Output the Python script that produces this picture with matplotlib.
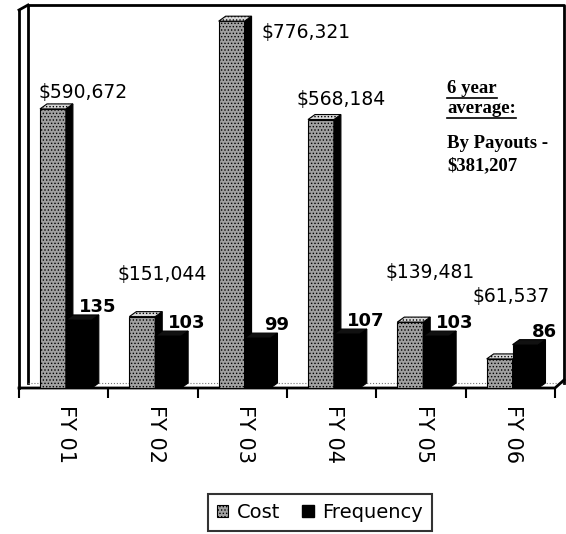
import numpy as np
import matplotlib.pyplot as plt
import matplotlib.transforms as mtransforms
from matplotlib.patches import Polygon
from matplotlib.lines import Line2D

years = ['FY 01', 'FY 02', 'FY 03', 'FY 04', 'FY 05', 'FY 06']
cost = [590672, 151044, 776321, 568184, 139481, 61537]
frequency = [135, 103, 99, 107, 103, 86]
cost_labels = ['$590,672', '$151,044', '$776,321', '$568,184', '$139,481', '$61,537']
# where Excel dropped each cost label, in pixels from the bar top
cost_label_offsets = [(30, 16), (20, 42), (74, -11), (20, 20), (20, 50), (12, 62)]

W, H = 566, 534
plt.rcParams['font.family'] = ['DejaVu Sans']
plt.rcParams['hatch.linewidth'] = 0.6
plt.rcParams['hatch.color'] = '#222222'

fig = plt.figure(figsize=(W / 100, H / 100), dpi=100)
x0, x1, y0, y1 = 19, 555, 388, 10   # front plane of the box, pixels
ax = fig.add_axes([x0 / W, 1 - y0 / H, (x1 - x0) / W, (y0 - y1) / H])
ax.set_xlim(0, 6)
ax.set_ylim(0, 800000)
ax2 = ax.twinx()
ax2.set_ylim(0, 750)
for a in (ax, ax2):
    for s in a.spines.values():
        s.set_visible(False)
    a.set_yticks([])
ax.patch.set_visible(False)

# depth of bars in data units (7 px right, 5 px up)
px_x = (x1 - x0) / 6
dx = 7 / px_x
dy_cost = 5 * 800000 / (y0 - y1)
dy_freq = 5 * 750 / (y0 - y1)

bw = 0.29
idx = np.arange(len(years))
cl = idx + 0.235
fl = cl + bw

def box3d(a, left, v, dy, front, side, top, hatch=None, z=2):
    a.bar(left, v, width=bw, align='edge', color=front, edgecolor='black',
          linewidth=0.8, hatch=hatch, zorder=z)
    r = left + bw
    a.add_patch(Polygon([(r, 0), (r + dx, dy), (r + dx, v + dy), (r, v)],
                        closed=True, facecolor=side, edgecolor='black', lw=0.8, zorder=z))
    a.add_patch(Polygon([(left, v), (left + dx, v + dy), (r + dx, v + dy), (r, v)],
                        closed=True, facecolor=top, edgecolor='black', lw=0.8,
                        hatch=hatch, zorder=z))

for i in idx:
    box3d(ax, cl[i], cost[i], dy_cost, '#a0a0a0', 'black', '#d8d8d8', hatch='.....')
    box3d(ax2, fl[i], frequency[i], dy_freq, 'black', 'black', '#111111', z=3)

for i in idx:
    ax.annotate(cost_labels[i], (cl[i] + bw / 2, cost[i]), xytext=cost_label_offsets[i],
                textcoords='offset pixels', ha='center', va='center', fontsize=13.5,
                annotation_clip=False)
    ax2.annotate(str(frequency[i]), (fl[i] + bw / 2, frequency[i]), xytext=(19, 13),
                 textcoords='offset pixels', ha='center', va='center', fontsize=13,
                 fontweight='bold', annotation_clip=False)

# walls and floor of the 3D box
off = ax.transAxes + mtransforms.ScaledTranslation(0.09, 0.05, fig.dpi_scale_trans)
kw = dict(color='black', lw=2, clip_on=False, zorder=1)
ax.add_line(Line2D([0, 0, 1, 1], [0, 1, 1, 0], transform=off, **kw))
ax.add_line(Line2D([0, 1], [0, 0], transform=off, color='#777777', lw=0.8,
                   ls=':', clip_on=False, zorder=1))
ax.add_line(Line2D([0, 0], [0, 1], transform=ax.transAxes, **kw))
ax.add_line(Line2D([0, 0.0168], [1, 1.0132], transform=ax.transAxes, **kw))
ax.add_line(Line2D([0, 1, 1.0168], [0, 0, 0.0212], transform=ax.transAxes, **kw))

ax.set_xticks(np.arange(7))
ax.set_xticklabels([])
ax.set_xticks(idx + 0.53, minor=True)
ax.set_xticklabels(years, minor=True, rotation=270, fontsize=15, va='top', ha='center')
ax.tick_params(axis='x', which='major', direction='out', length=7, width=1.5)
ax.tick_params(axis='x', which='minor', length=0, pad=12)

# side note
nx = 447 / W
note = fig.text(nx, 1 - 93 / H, '6 year', family='Liberation Serif',
                fontweight='bold', fontsize=13.5)
note2 = fig.text(nx, 1 - 113 / H, 'average:', family='Liberation Serif',
                 fontweight='bold', fontsize=13.5)
fig.text(nx, 1 - 148 / H, 'By Payouts -', family='Liberation Serif',
         fontweight='bold', fontsize=13.5)
fig.text(nx, 1 - 170 / H, '$381,207', family='Liberation Serif',
         fontweight='bold', fontsize=13.5)
fig.canvas.draw()
for t in (note, note2):
    bb = t.get_window_extent()
    fig.add_artist(Line2D([bb.x0 / W, bb.x1 / W], [(bb.y0 - 1) / H] * 2,
                          transform=fig.transFigure, color='black', lw=1.2))

handles = [plt.Rectangle((0, 0), 1, 1, facecolor='#a0a0a0', edgecolor='black',
                         hatch='.....', lw=0.8),
           plt.Rectangle((0, 0), 1, 1, facecolor='black', edgecolor='black')]
leg = fig.legend(handles, ['Cost', 'Frequency'], loc='upper center',
                 bbox_to_anchor=(320 / W, 1 - 494 / H), ncol=2, fontsize=14,
                 frameon=True, fancybox=False, edgecolor='black',
                 handlelength=0.6, handleheight=0.6, handletextpad=0.45,
                 columnspacing=1.1, borderpad=0.45, borderaxespad=0)
leg.get_frame().set_linewidth(1.5)

fig.savefig('out.png', dpi=100)
